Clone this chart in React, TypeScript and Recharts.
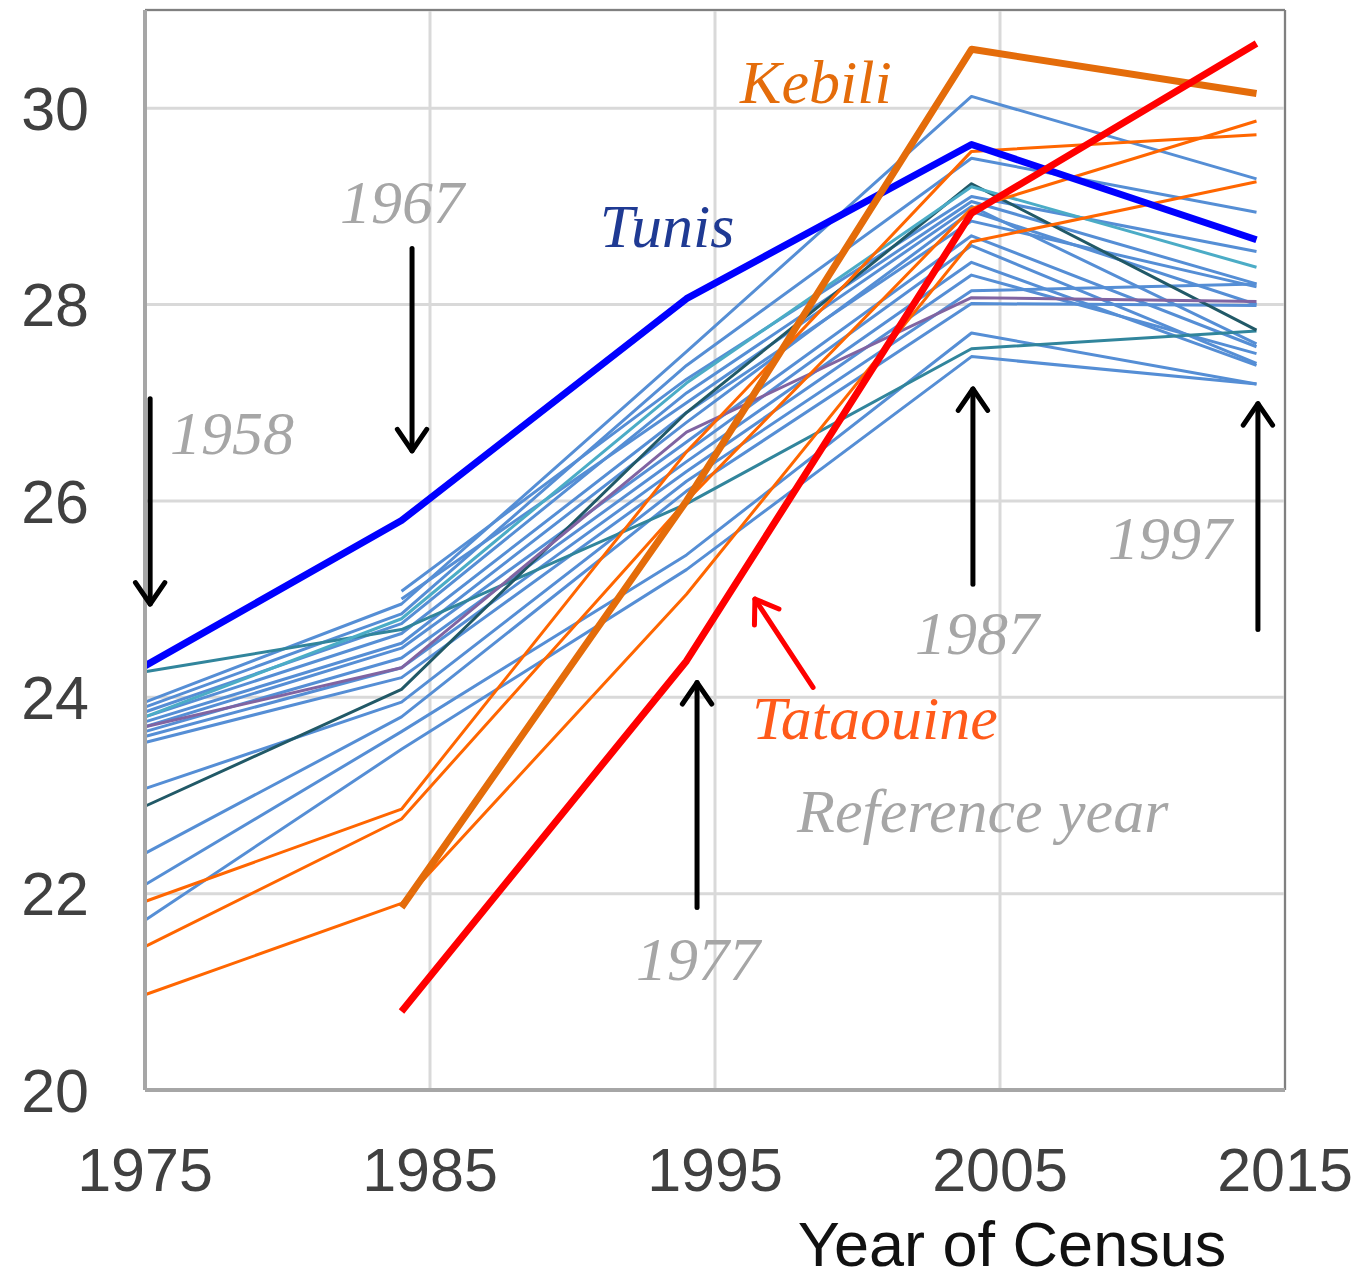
import React from 'react';
import { LineChart, Line, XAxis, YAxis, CartesianGrid, ReferenceLine } from 'recharts';

// census years and axis ticks
const YEARS = [1975, 1984, 1994, 2004, 2014];
const X_TICKS = [1975, 1985, 1995, 2005, 2015];
const Y_TICKS = [20, 22, 24, 26, 28, 30];

// highlighted governorates
const TUNIS = [24.32, 25.8, 28.06, 29.63, 28.66];
const KEBILI = [null, 21.86, 26.0, 30.6, 30.15];
const TATAOUINE = [null, 20.8, 24.37, 28.93, 30.66];

// other southern governorates (orange)
const ORANGE_A = [21.92, 22.86, 26.5, 29.56, 29.73];
const ORANGE_B = [21.46, 22.76, 26.0, 28.98, 29.87];
const ORANGE_C = [20.97, 21.9, 25.05, 28.64, 29.25];

// odd coloured ones
const TEAL = [24.26, 24.69, 25.97, 27.55, 27.73];
const DARK_TEAL = [22.89, 24.08, 26.9, 29.23, 27.74];
const PURPLE = [23.7, 24.3, 26.7, 28.07, 28.03];
const CYAN = [23.8, 24.8, 27.2, 29.2, 28.38];

// the rest (blue)
const BLUE = [
  [23.95, 24.95, 27.52, 30.12, 29.28],
  [23.9, 24.85, 27.38, 29.49, 28.94],
  [null, 25.08, 27.24, 29.1, 28.54],
  [23.85, 24.75, 27.1, 29.05, 28.21],
  [null, 25.0, 27.0, 29.0, 27.6],
  [23.8, 24.65, 26.9, 28.85, 28.18],
  [23.75, 24.55, 26.8, 28.95, 28.0],
  [23.7, 24.5, 26.6, 28.7, 27.57],
  [23.65, 24.4, 26.5, 28.6, 27.4],
  [23.6, 24.3, 26.4, 28.43, 27.38],
  [23.54, 24.2, 26.3, 28.3, 27.5],
  [23.07, 23.95, 26.2, 28.14, 28.21],
  [22.41, 23.8, 26.1, 28.01, 27.99],
  [22.09, 23.65, 25.45, 27.71, 27.19],
  [21.73, 23.47, 25.3, 27.47, 27.19],
];

type S = { key: string; values: (number | null)[]; color: string; width: number };

const SERIES: S[] = [
  ...BLUE.map((v, i) => ({ key: `blue${i}`, values: v, color: '#558ED5', width: 3 })),
  { key: 'teal', values: TEAL, color: '#31859C', width: 3 },
  { key: 'darkTeal', values: DARK_TEAL, color: '#215967', width: 3 },
  { key: 'purple', values: PURPLE, color: '#8064A2', width: 3 },
  { key: 'cyan', values: CYAN, color: '#4BACC6', width: 3 },
  { key: 'orangeA', values: ORANGE_A, color: '#FF6600', width: 3 },
  { key: 'orangeB', values: ORANGE_B, color: '#FF6600', width: 3 },
  { key: 'orangeC', values: ORANGE_C, color: '#FF6600', width: 3 },
  { key: 'tunis', values: TUNIS, color: '#0000FF', width: 7 },
  { key: 'kebili', values: KEBILI, color: '#E46C0A', width: 7 },
  { key: 'tataouine', values: TATAOUINE, color: '#FF0000', width: 7 },
];

const data = YEARS.map((year, i) => {
  const row: Record<string, number | null> = { year };
  SERIES.forEach((s) => (row[s.key] = s.values[i]));
  return row;
});

// annotation arrows (data coordinates): x, y tail, y head
const ARROWS = [
  { x: 1975.18, from: 27.04, to: 24.95 },
  { x: 1984.37, from: 28.57, to: 26.51 },
  { x: 1994.37, from: 21.86, to: 24.15 },
  { x: 2004.05, from: 25.15, to: 27.14 },
  { x: 2014.05, from: 24.69, to: 26.99 },
];

const NOTES = [
  { text: '1958', x: 1975.88, y: 26.48, color: '#A6A6A6' },
  { text: '1967', x: 1981.84, y: 28.83, color: '#A6A6A6' },
  { text: '1977', x: 1992.23, y: 21.12, color: '#A6A6A6' },
  { text: '1987', x: 2002.02, y: 24.44, color: '#A6A6A6' },
  { text: '1997', x: 2008.79, y: 25.41, color: '#A6A6A6' },
  { text: 'Reference year', x: 1997.88, y: 22.63, color: '#A6A6A6' },
  { text: 'Tunis', x: 1990.96, y: 28.59, color: '#1F3A93' },
  { text: 'Kebili', x: 1995.88, y: 30.05, color: '#E46C0A' },
  { text: 'Tataouine', x: 1996.3, y: 23.57, color: '#FF5A1A' },
];

const W = 1355;
const H = 1282;
const PLOT = { left: 145, right: 1285, top: 10, bottom: 1090 };
const px = (x: number) => PLOT.left + ((x - 1975) * (PLOT.right - PLOT.left)) / 40;
const py = (y: number) => PLOT.top + ((31 - y) * (PLOT.bottom - PLOT.top)) / 11;

const Arrow = ({ x1, y1, x2, y2, color }: { x1: number; y1: number; x2: number; y2: number; color: string }) => {
  const a = Math.atan2(y2 - y1, x2 - x1);
  const len = 26;
  const spread = 0.6;
  const h1x = x2 - len * Math.cos(a - spread);
  const h1y = y2 - len * Math.sin(a - spread);
  const h2x = x2 - len * Math.cos(a + spread);
  const h2y = y2 - len * Math.sin(a + spread);
  return (
    <g stroke={color} strokeWidth={5} fill="none" strokeLinecap="round" strokeLinejoin="round">
      <line x1={x1} y1={y1} x2={x2} y2={y2} />
      <path d={`M${h1x},${h1y} L${x2},${y2} L${h2x},${h2y}`} />
    </g>
  );
};

export default function App() {
  return (
    <div style={{ position: 'absolute', left: 0, top: 0, width: W, height: H, background: '#fff' }}>
      <LineChart
        width={W}
        height={H}
        data={data}
        margin={{ top: PLOT.top, right: W - PLOT.right, bottom: H - PLOT.bottom - 30, left: 25 }}
      >
        <CartesianGrid stroke="#D9D9D9" strokeWidth={3} />
        <XAxis
          dataKey="year"
          type="number"
          domain={[1975, 2015]}
          ticks={X_TICKS}
          height={30}
          tickSize={0}
          tickMargin={58}
          axisLine={{ stroke: '#A6A6A6', strokeWidth: 4 }}
          tick={{ fill: '#404040', fontSize: 61, fontFamily: 'Liberation Sans, Arial, sans-serif' }}
        />
        <YAxis
          type="number"
          domain={[20, 31]}
          ticks={Y_TICKS}
          width={120}
          tickSize={0}
          tickMargin={56}
          axisLine={{ stroke: '#A6A6A6', strokeWidth: 4 }}
          tick={{ fill: '#404040', fontSize: 61, fontFamily: 'Liberation Sans, Arial, sans-serif' }}
        />
        <ReferenceLine y={31} stroke="#808080" strokeWidth={2} />
        <ReferenceLine x={2015} stroke="#808080" strokeWidth={2} />
        {SERIES.map((s) => (
          <Line
            key={s.key}
            dataKey={s.key}
            type="linear"
            stroke={s.color}
            strokeWidth={s.width}
            dot={false}
            activeDot={false}
            isAnimationActive={false}
            strokeLinejoin="round"
          />
        ))}
      </LineChart>
      <svg width={W} height={H} style={{ position: 'absolute', left: 0, top: 0, pointerEvents: 'none' }}>
        {ARROWS.map((a, i) => (
          <Arrow key={i} x1={px(a.x)} y1={py(a.from)} x2={px(a.x)} y2={py(a.to)} color="#000" />
        ))}
        <Arrow x1={px(1998.44)} y1={py(24.1)} x2={px(1996.4)} y2={py(25.0)} color="#FF0000" />
        {NOTES.map((n) => (
          <text
            key={n.text}
            x={px(n.x)}
            y={py(n.y)}
            fill={n.color}
            fontSize={62}
            fontStyle="italic"
            fontFamily="Liberation Serif, Times New Roman, serif"
          >
            {n.text}
          </text>
        ))}
        <text x={1012} y={1266} textAnchor="middle" fill="#111" fontSize={63} fontFamily="Liberation Sans, Arial, sans-serif">
          Year of Census
        </text>
      </svg>
    </div>
  );
}
